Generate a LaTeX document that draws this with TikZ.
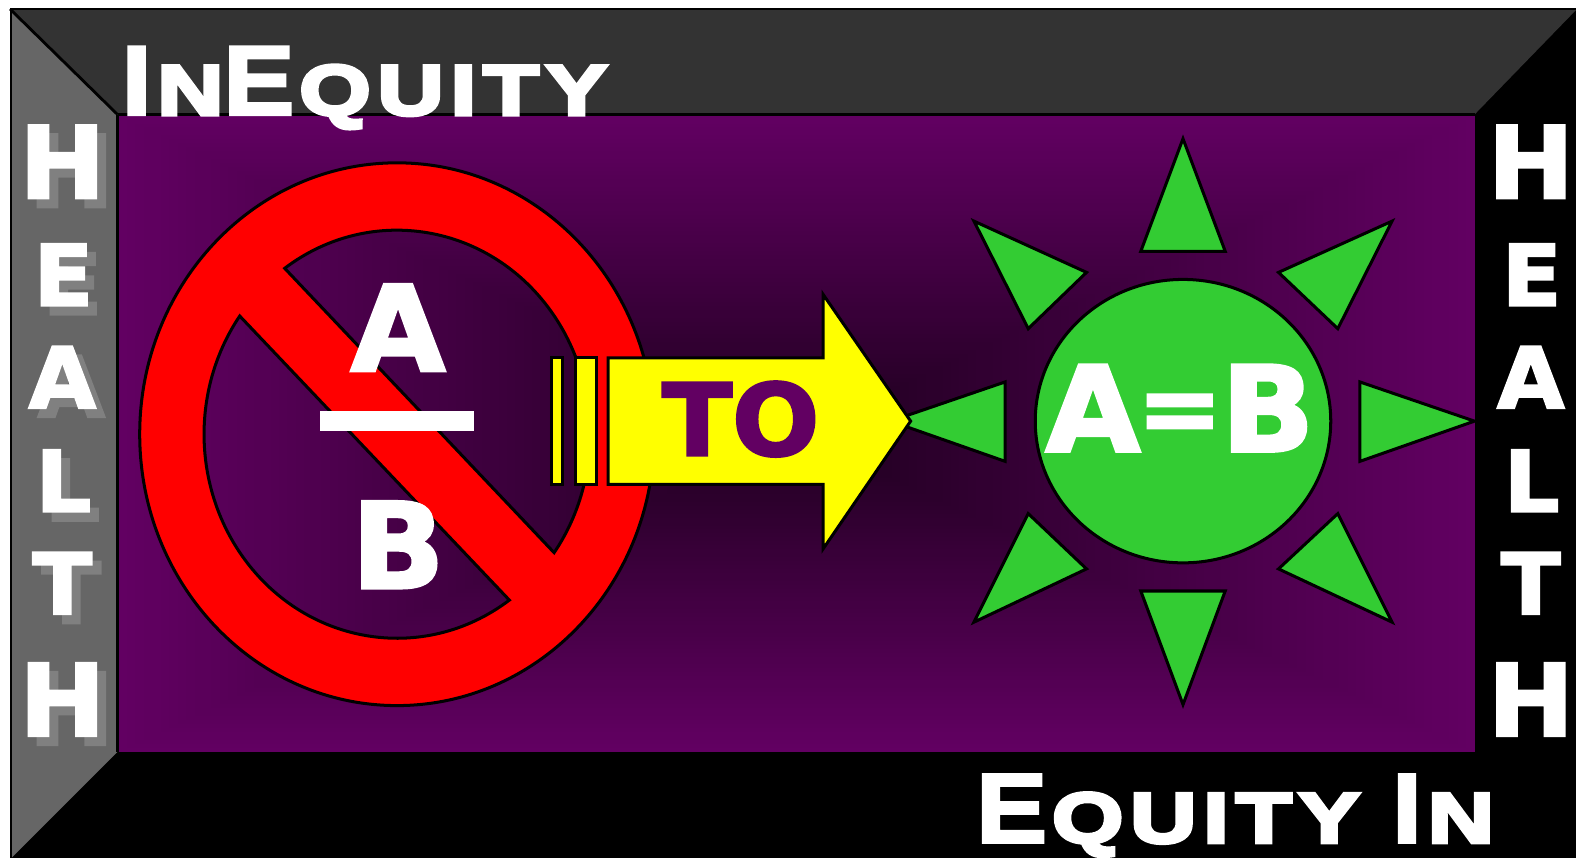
\documentclass[tikz,border=0pt]{standalone}
\usepackage{xcolor}
\usepackage{fontspec}
\newfontfamily\headbig{Liberation Sans}[FakeStretch=1.08,BoldFeatures={FakeBold=3}]
\newfontfamily\headsmall{Liberation Sans}[FakeStretch=1.3,LetterSpace=10,BoldFeatures={FakeBold=6}]
\newfontfamily\wordfont{DejaVu Sans}[FakeStretch=1.03,BoldFeatures={FakeBold=2.6}]
\definecolor{panelpurple}{HTML}{620062}
\definecolor{paneldark}{HTML}{1E001E}
\definecolor{bevelgray}{HTML}{666666}
\definecolor{beveltop}{HTML}{333333}
\definecolor{shadowgray}{HTML}{808080}
\definecolor{sungreen}{HTML}{33CC33}
\definecolor{toyellow}{HTML}{FFFF00}
\newcommand{\bigsize}{\headbig\bfseries\fontsize{98}{98}\selectfont}
\newcommand{\smallsize}{\headsmall\bfseries\fontsize{70}{70}\selectfont}
\tikzset{
  outline/.style={draw=black,line width=3pt,line join=miter},
  wordtext/.style={text=white,inner sep=0pt,anchor=base west},
  bigletter/.style={inner sep=0pt,anchor=base,font=\wordfont\bfseries\fontsize{99}{99}\selectfont},
  midletter/.style={inner sep=0pt,anchor=base,font=\wordfont\bfseries\fontsize{84}{84}\selectfont},
  fraction/.style={text=white,inner sep=0pt,anchor=base,font=\wordfont\bfseries\fontsize{118}{118}\selectfont}
}

\begin{document}
\begin{tikzpicture}[x=1pt,y=-1pt]
  \useasboundingbox (0,0) rectangle (1568,853.7);
  \fill[white] (0,0) rectangle (1568,853.7);

  \fill[black] (10,8) rectangle (1568,853.7);
  \fill[bevelgray] (12,10) -- (117,114) -- (117,748) -- (12,853);
  \fill[beveltop] (12,10) -- (1568,10) -- (1467,114) -- (117,114) -- cycle;
  \draw[line width=2.8pt] (10,9) -- (117,114);
  \draw[line width=2.8pt] (117,114) -- (1467,114);
  \draw[line width=2.8pt] (117,114) -- (117,748);

  \foreach \i in {0,...,80} {
    \pgfmathsetmacro{\pct}{100-1.25*\i}
    \pgfmathsetmacro{\inx}{118+\i*8.4}
    \pgfmathsetmacro{\iny}{115+\i*3.95}
    \pgfmathsetmacro{\outx}{1467-\i*8.4}
    \pgfmathsetmacro{\outy}{748-\i*3.95}
    \fill[panelpurple!\pct!paneldark] (\inx,\iny) rectangle (\outx,\outy);
  }

  \foreach \n/\letter/\ypos/\size/\xpos in {
    1/H/197/bigletter/62,
    2/E/304/midletter/63,
    3/A/406/midletter/62,
    4/L/509/midletter/63,
    5/T/611/midletter/62,
    6/H/732/bigletter/62
  } {
    \pgfmathsetmacro{\shx}{\xpos+9}
    \pgfmathsetmacro{\shy}{\ypos+9}
    \pgfmathsetmacro{\rx}{\xpos+1461}
    \node[\size,text=shadowgray] (shade\n) at (\shx,\shy) {\letter};
    \node[\size,text=white] (left\n) at (\xpos,\ypos) {\letter};
    \node[\size,text=white] (right\n) at (\rx,\ypos) {\letter};
  }

  \node[wordtext] (inequity) at (121,114) {\bigsize I\kern6pt\smallsize N\bigsize E\kern5pt\smallsize QUITY};
  \node[wordtext] (equityin) at (971,838) {\bigsize E\kern5pt\smallsize QUITY \bigsize I\kern6pt\smallsize N};

  \path[fill=red,outline,even odd rule]
    (395,432) ellipse [x radius=256,y radius=270]
    (395,432) ++(234.4:192 and 203) arc [start angle=234.4,end angle=395.5,x radius=192,y radius=203] -- cycle
    (395,432) ++(54.4:192 and 203) arc [start angle=54.4,end angle=215.4,x radius=192,y radius=203] -- cycle;

  \node[fraction] (topa) at (396,369) {A};
  \fill[white] (318,409) rectangle (472,429);
  \node[fraction] (botb) at (396,585) {B};

  \foreach \ax/\ay/\bx/\by/\cx/\cy in {
    1177/138/1219/250/1135/250,
    969/220/1081/271/1023/327,
    1385/220/1272/271/1331/327,
    886/419/1000/380/1000/459,
    1467/419/1353/380/1353/459,
    969/619/1081/566/1023/511,
    1385/619/1272/566/1331/511,
    1177/701/1135/588/1219/588
  } {
    \draw[outline,fill=sungreen] (\ax,\ay) -- (\bx,\by) -- (\cx,\cy) -- cycle;
  }
  \draw[outline,fill=sungreen] (1177,419) ellipse [x radius=147,y radius=141];
  \node[fraction] (equal) at (1174,449) {A\kern-3pt\raisebox{9pt}{\fontsize{98}{98}\selectfont=}\kern-1pt B};

  \draw[outline,fill=toyellow] (549,356) rectangle (559.5,482);
  \draw[outline,fill=toyellow] (572.5,356) rectangle (593.5,482);
  \draw[outline,fill=toyellow] (605,356) -- (819,356) -- (819,293) -- (906,419)
    -- (819,546) -- (819,482) -- (605,482) -- cycle;
  \node[inner sep=0pt,anchor=base,text=panelpurple,font=\wordfont\bfseries\fontsize{99}{99}\selectfont] (towards) at (737,453) {TO};
\end{tikzpicture}
\end{document}
